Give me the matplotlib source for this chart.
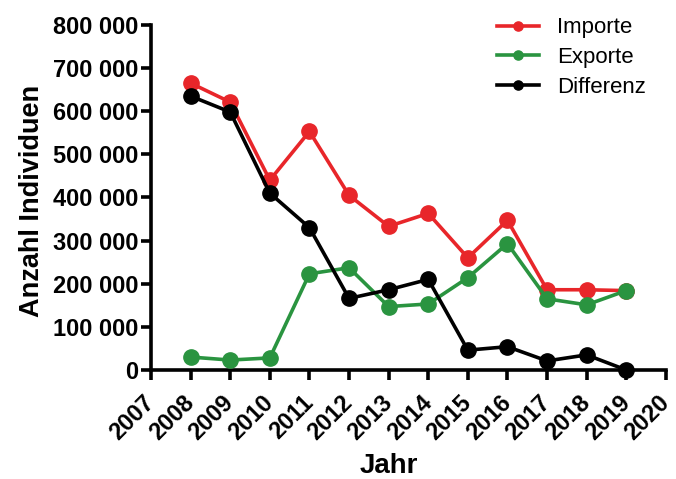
import matplotlib
matplotlib.use("Agg")
import matplotlib.pyplot as plt
from matplotlib.ticker import FuncFormatter

plt.rcParams['font.family'] = ['Liberation Sans', 'DejaVu Sans']

jahre = [2008, 2009, 2010, 2011, 2012, 2013, 2014, 2015, 2016, 2017, 2018, 2019]
importe = [665000, 621000, 440000, 553000, 405000, 333000, 363000, 260000, 347000, 186000, 186000, 184000]
exporte = [30000, 23000, 28000, 223000, 237000, 147000, 153000, 214000, 293000, 165000, 151000, 184000]
differenz = [635000, 598000, 410000, 330000, 166000, 186000, 210000, 46000, 54000, 21000, 35000, 0]

fig = plt.figure(figsize=(6.76, 4.79), dpi=100)
ax = fig.add_axes([0.2234, 0.2276, 0.7616, 0.7204])

ax.plot(jahre, importe, color='#e8262a', lw=2.6, marker='o', ms=11, label='Importe', clip_on=False, zorder=3)
ax.plot(jahre, exporte, color='#2a9440', lw=2.6, marker='o', ms=11, label='Exporte', clip_on=False, zorder=3)
ax.plot(jahre, differenz, color='black', lw=2.6, marker='o', ms=11, label='Differenz', clip_on=False, zorder=4)

ax.set_xlim(2007, 2020)
ax.set_ylim(0, 800000)
ax.set_xticks(range(2007, 2021))
ax.set_yticks(range(0, 800001, 100000))
ax.yaxis.set_major_formatter(FuncFormatter(lambda v, p: f"{int(v):,}".replace(",", " ")))

for s in ['top', 'right']:
    ax.spines[s].set_visible(False)
for s in ['left', 'bottom']:
    ax.spines[s].set_linewidth(2.6)
ax.tick_params(width=2.6, length=7, labelsize=17)
ax.tick_params(axis='y', pad=2)
ax.tick_params(axis='x', pad=14)
for lab in ax.get_xticklabels() + ax.get_yticklabels():
    lab.set_fontweight('bold')
plt.setp(ax.get_xticklabels(), rotation=45, ha='right', va='center', rotation_mode='anchor')

ax.set_xlabel('Jahr', fontsize=20, fontweight='bold')
ax.xaxis.set_label_coords(0.462, -0.24)
ax.set_ylabel('Anzahl Individuen', fontsize=19.5, fontweight='bold')
ax.yaxis.set_label_coords(-0.205, 0.49)

leg = ax.legend(loc='upper right', bbox_to_anchor=(1.0, 1.08), frameon=False, fontsize=16,
                handlelength=1.9, handletextpad=0.8, markerscale=0.6, labelspacing=0.4)

fig.savefig('out.png', dpi=100)
